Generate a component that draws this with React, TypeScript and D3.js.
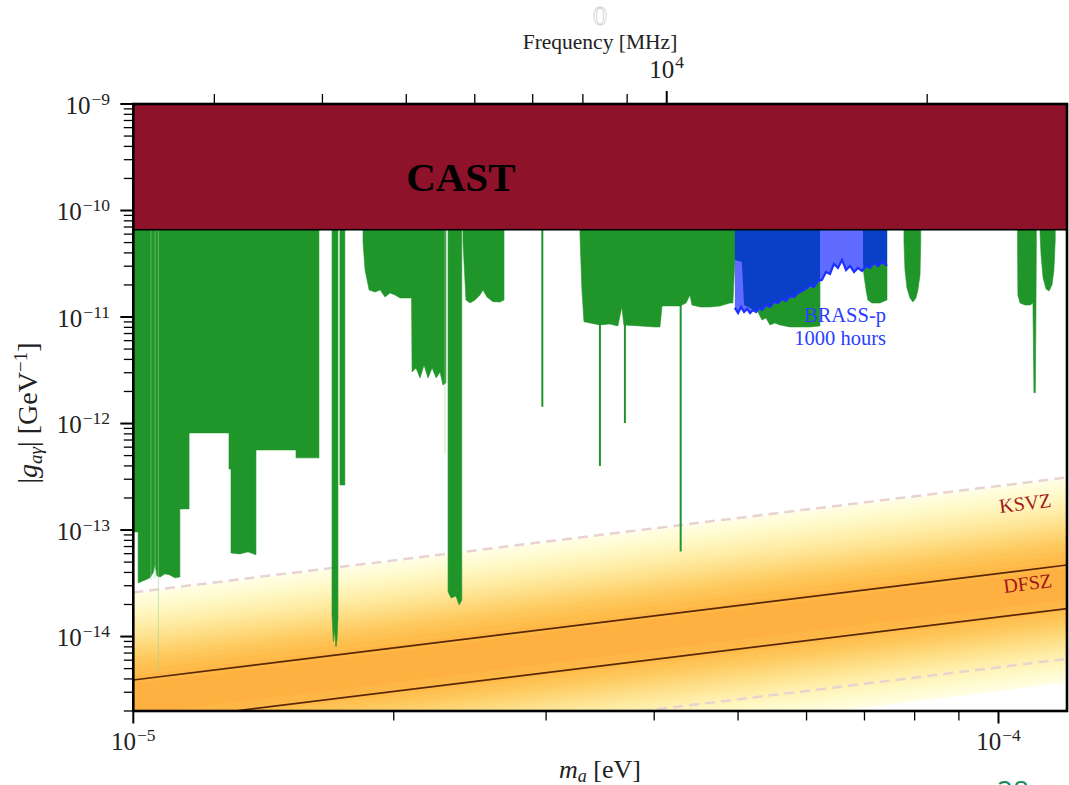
import React from 'react';
import * as d3 from 'd3';

const WIDTH = 1069;
const HEIGHT = 785;
const PLOT = { left: 133.3, right: 1067, top: 104, bottom: 711 };

// axis domains
const massDomain = [1e-5, 1.2e-4];
const couplingDomain = [2e-15, 1e-9];
const MHZ_PER_EV = 2.418e8;

// tick labels
const yMajor = [1e-9, 1e-10, 1e-11, 1e-12, 1e-13, 1e-14];
const yMajorExp = ['−9', '−10', '−11', '−12', '−13', '−14'];
const xMajor = [1e-5, 1e-4];
const xMajorExp = ['−5', '−4'];
const freqMajor = [1e4];
const freqMajorExp = ['4'];

// CAST helioscope limit
const castLimit = 6.6e-11;

// QCD axion model lines
const modelMass = [1e-5, 1.2e-4];
const ksvzG = [3.91e-15, 4.69e-14];
const dfszG = [1.526e-15, 1.831e-14];
const bandUpperG = [2.595e-14, 3.114e-13];
const bandLowerG = [5.15e-16, 6.18e-15];
const bandCenterG = [2.55e-15, 3.06e-14];

// haloscope exclusions (lower edge of excluded region)
const haloA_mass = [1.0e-5, 1.013e-5, 1.013e-5, 1.032e-5, 1.045e-5, 1.054e-5, 1.0595e-5, 1.065e-5, 1.074e-5, 1.088e-5, 1.102e-5, 1.117e-5, 1.132e-5, 1.132e-5, 1.16e-5, 1.16e-5, 1.29e-5, 1.29e-5, 1.297e-5, 1.297e-5, 1.328e-5, 1.357e-5, 1.386e-5, 1.386e-5, 1.542e-5, 1.542e-5, 1.639e-5];
const haloA_g = [9.61e-14, 9.61e-14, 3.19e-14, 3.4e-14, 3.56e-14, 3.96e-14, 4.71e-14, 3.71e-14, 3.63e-14, 3.88e-14, 3.79e-14, 3.56e-14, 3.63e-14, 1.58e-13, 1.58e-13, 8.17e-13, 8.17e-13, 3.75e-13, 3.75e-13, 6.1e-14, 5.97e-14, 6.24e-14, 5.85e-14, 5.65e-13, 5.65e-13, 4.76e-13, 4.76e-13];
const haloB_mass = [1.697e-5, 1.703e-5, 1.709e-5, 1.715e-5, 1.72e-5, 1.724e-5];
const haloB_g = [1.6e-14, 9e-15, 1.15e-14, 8.0e-15, 9.5e-15, 1.5e-14];
const haloC_mass = [1.733e-5, 1.756e-5];
const haloC_g = [2.65e-13, 2.65e-13];
const haloD_mass = [1.843e-5, 1.853e-5, 1.873e-5, 1.903e-5, 1.929e-5, 1.954e-5, 1.98e-5, 2.007e-5, 2.034e-5, 2.061e-5, 2.097e-5, 2.1e-5, 2.122e-5, 2.145e-5, 2.168e-5, 2.191e-5, 2.215e-5, 2.239e-5, 2.262e-5, 2.28e-5, 2.298e-5];
const haloD_g = [5e-11, 2.767e-11, 1.795e-11, 1.72e-11, 1.795e-11, 1.543e-11, 1.683e-11, 1.611e-11, 1.51e-11, 1.51e-11, 1.51e-11, 3.05e-12, 3.33e-12, 2.68e-12, 3.55e-12, 2.68e-12, 3.33e-12, 2.68e-12, 3.05e-12, 2.3e-12, 2.405e-12];
const haloE_mass = [2.311e-5, 2.33e-5, 2.36e-5, 2.38e-5, 2.397e-5];
const haloE_g = [2.63e-14, 2.3e-14, 2.4e-14, 1.98e-14, 2.2e-14];
const haloF_mass = [2.405e-5, 2.424e-5, 2.45e-5, 2.483e-5, 2.516e-5, 2.536e-5, 2.563e-5, 2.604e-5, 2.653e-5, 2.682e-5];
const haloF_g = [5e-11, 1.446e-11, 1.355e-11, 1.446e-11, 1.611e-11, 1.795e-11, 1.543e-11, 1.394e-11, 1.385e-11, 1.446e-11];
const haloH_mass = [3.283e-5, 3.3e-5, 3.318e-5, 3.372e-5, 3.462e-5, 3.554e-5, 3.631e-5, 3.67e-5, 3.69e-5, 3.85e-5, 4.009e-5, 4.062e-5, 4.084e-5, 4.172e-5, 4.284e-5, 4.354e-5, 4.4e-5, 4.423e-5, 4.519e-5, 4.64e-5, 4.765e-5, 4.893e-5, 4.932e-5, 4.958e-5, 5.051e-5, 5.081e-5, 5.162e-5, 5.272e-5, 5.329e-5, 5.386e-5, 5.443e-5, 5.515e-5, 5.589e-5, 5.741e-5, 5.896e-5, 6.054e-5, 6.218e-5];
const haloH_g = [6e-11, 1.8e-11, 9.05e-12, 8.8e-12, 8.43e-12, 8.61e-12, 8.25e-12, 1.244e-11, 8.43e-12, 8.25e-12, 8.07e-12, 8.07e-12, 1.271e-11, 1.271e-11, 1.271e-11, 1.355e-11, 1.611e-11, 1.298e-11, 1.244e-11, 1.244e-11, 1.271e-11, 1.355e-11, 1.355e-11, 3.434e-11, 3.289e-11, 1.298e-11, 1.217e-11, 1.116e-11, 9.39e-12, 9.8e-12, 8.43e-12, 8.8e-12, 8.43e-12, 8.07e-12, 8.07e-12, 8.07e-12, 8.25e-12];
const haloI_mass = [6.973e-5, 6.99e-5, 7.03e-5, 7.063e-5, 7.14e-5, 7.295e-5, 7.432e-5];
const haloI_g = [3.289e-11, 2.48e-11, 1.795e-11, 1.446e-11, 1.355e-11, 1.355e-11, 1.446e-11];
const haloJ_mass = [7.776e-5, 7.797e-5, 7.838e-5, 7.901e-5, 7.964e-5, 8.028e-5, 8.07e-5, 8.115e-5, 8.13e-5];
const haloJ_g = [5e-11, 2.767e-11, 1.875e-11, 1.51e-11, 1.385e-11, 1.51e-11, 1.795e-11, 2.48e-11, 5e-11];
const haloK_mass = [1.052e-4, 1.053e-4, 1.059e-4, 1.073e-4, 1.088e-4, 1.096e-4, 1.099e-4, 1.103e-4, 1.105e-4, 1.106e-4];
const haloK_g = [5e-11, 1.611e-11, 1.355e-11, 1.298e-11, 1.298e-11, 1.355e-11, 1.95e-12, 1.95e-12, 1.446e-11, 5e-11];
const haloL_mass = [1.117e-4, 1.12e-4, 1.126e-4, 1.135e-4, 1.144e-4, 1.153e-4, 1.159e-4, 1.163e-4];
const haloL_g = [6e-11, 3.83e-11, 2.33e-11, 1.835e-11, 1.757e-11, 2.0e-11, 2.767e-11, 5.29e-11];

// very narrow scans (drawn as lines)
const narrowMass = [2.97e-5, 3.462e-5, 3.7e-5, 4.292e-5];
const narrowG = [1.44e-12, 4.0e-13, 1.01e-12, 6.3e-14];

// faint scans
const faintMass = [1.048e-5, 1.0595e-5, 1.069e-5, 2.292e-5];
const faintG = [3.4e-14, 3.5e-14, 4.66e-15, 5.3e-13];

// BRASS-p projected sensitivity (1000 hours)
const brassMass = [4.958e-5, 5.0e-5, 5.04e-5, 5.081e-5, 5.121e-5, 5.162e-5, 5.203e-5, 5.245e-5, 5.287e-5, 5.329e-5, 5.386e-5, 5.443e-5, 5.501e-5, 5.56e-5, 5.619e-5, 5.679e-5, 5.741e-5, 5.802e-5, 5.864e-5, 5.927e-5, 5.99e-5, 6.054e-5, 6.119e-5, 6.184e-5, 6.252e-5, 6.318e-5, 6.386e-5, 6.454e-5, 6.523e-5, 6.594e-5, 6.665e-5, 6.736e-5, 6.808e-5, 6.88e-5, 6.955e-5, 7.03e-5, 7.104e-5, 7.178e-5, 7.255e-5, 7.334e-5, 7.432e-5];
const brassG = [1.217e-11, 1.092e-11, 1.244e-11, 1.116e-11, 1.191e-11, 1.092e-11, 1.165e-11, 1.116e-11, 1.217e-11, 1.165e-11, 1.298e-11, 1.244e-11, 1.385e-11, 1.355e-11, 1.478e-11, 1.415e-11, 1.577e-11, 1.543e-11, 1.683e-11, 1.757e-11, 1.835e-11, 2.0e-11, 1.915e-11, 2.18e-11, 2.23e-11, 2.649e-11, 2.537e-11, 3.149e-11, 2.889e-11, 3.434e-11, 2.767e-11, 3.016e-11, 2.649e-11, 2.889e-11, 2.707e-11, 3.016e-11, 2.889e-11, 3.218e-11, 3.016e-11, 3.289e-11, 3.016e-11];

const haloRegions: [number[], number[]][] = [
  [haloA_mass, haloA_g], [haloB_mass, haloB_g], [haloC_mass, haloC_g], [haloD_mass, haloD_g],
  [haloE_mass, haloE_g], [haloF_mass, haloF_g], [haloH_mass, haloH_g], [haloI_mass, haloI_g],
  [haloJ_mass, haloJ_g], [haloK_mass, haloK_g], [haloL_mass, haloL_g],
];

const FONT = '"Liberation Serif", "Times New Roman", serif';
const GREEN = '#20952a';
const CAST_COL = '#8e1229';

export default function App() {
  const x = d3.scaleLog().domain(massDomain).range([PLOT.left, PLOT.right]);
  const y = d3.scaleLog().domain(couplingDomain).range([PLOT.bottom, PLOT.top]);
  const f = d3.scaleLog().domain([massDomain[0] * MHZ_PER_EV, massDomain[1] * MHZ_PER_EV]).range([PLOT.left, PLOT.right]);
  const line = d3.line<[number, number]>();
  const gTop = couplingDomain[1];

  const regionPath = (ms: number[], gs: number[]) => {
    const pts: [number, number][] = [
      [x(ms[0]), y(gTop)],
      ...ms.map((m, i) => [x(m), y(gs[i])] as [number, number]),
      [x(ms[ms.length - 1]), y(gTop)],
    ];
    return line(pts) + 'Z';
  };
  const greenPaths = haloRegions.map(([ms, gs]) => regionPath(ms, gs));
  const brassPath = regionPath(brassMass, brassG);
  const brassLine = line(brassMass.map((m, i) => [x(m), y(brassG[i])] as [number, number]));
  const modelLine = (gs: number[]) => line(modelMass.map((m, i) => [x(m), y(gs[i])] as [number, number]));

  // QCD band colour layers (filled contours of a log-normal band)
  const sigma = 0.8;
  const peak = 1 / (sigma * Math.sqrt(2 * Math.PI));
  const vmin = peak / (10 / 4.6);
  const vmax = 0.85;
  const layers = d3.range(0, 50).map((k) => k * 0.01).filter((l) => l + 0.005 >= vmin && l < peak);
  const bandLayers = layers.map((l) => {
    const h = Math.sqrt(-2 * sigma * sigma * Math.log(Math.max(l, 1e-6) / peak));
    const up = Math.pow(10, h), dn = Math.pow(10, -h * 0.92);
    const pts: [number, number][] = [
      [x(modelMass[0]), y(bandCenterG[0] * up)],
      [x(modelMass[1]), y(bandCenterG[1] * up)],
      [x(modelMass[1]), y(bandCenterG[1] * dn)],
      [x(modelMass[0]), y(bandCenterG[0] * dn)],
    ];
    const t = (l + 0.005 - vmin) / (vmax - vmin);
    return { d: line(pts) + 'Z', color: d3.interpolateYlOrBr(t) };
  });

  const yTicksAll = y.ticks();
  const yMinor = yTicksAll.filter((v) => !yMajor.some((M) => Math.abs(v / M - 1) < 1e-6));
  const xTicksAll = x.ticks();
  const xMinor = xTicksAll.filter((v) => !xMajor.some((M) => Math.abs(v / M - 1) < 1e-6));
  const fTicksAll = f.ticks();
  const fMinor = fTicksAll.filter((v) => !freqMajor.some((M) => Math.abs(v / M - 1) < 1e-6));

  const plotW = PLOT.right - PLOT.left;
  const plotH = PLOT.bottom - PLOT.top;
  const slopeAngle = (Math.atan2(y(ksvzG[0]) - y(ksvzG[1]), x(modelMass[1]) - x(modelMass[0])) * 180) / Math.PI;

  return (
    <svg width={WIDTH} height={HEIGHT} style={{ position: 'absolute', left: 0, top: 0, background: '#fff' }} fontFamily={FONT}>
      <defs>
        <clipPath id="plotClip">
          <rect x={PLOT.left} y={PLOT.top} width={plotW} height={plotH} />
        </clipPath>
        <clipPath id="greenClip">
          {greenPaths.map((d, i) => (
            <path key={i} d={d} />
          ))}
        </clipPath>
      </defs>
      <rect x={0} y={0} width={WIDTH} height={HEIGHT} fill="#fff" />

      <g clipPath="url(#plotClip)">
        {bandLayers.map((b, i) => (
          <path key={i} d={b.d} fill={b.color} stroke={b.color} strokeWidth={0.3} />
        ))}
        <path d={modelLine(bandUpperG) || ''} stroke="#e9d3cf" strokeWidth={2.5} strokeDasharray="10,6" fill="none" />
        <path d={modelLine(bandLowerG) || ''} stroke="#e9d3cf" strokeWidth={2.5} strokeDasharray="10,6" fill="none" />
        <path d={modelLine(ksvzG) || ''} stroke="#5a2606" strokeWidth={1.6} fill="none" />
        <path d={modelLine(dfszG) || ''} stroke="#5a2606" strokeWidth={1.6} fill="none" />
        <text
          transform={`translate(${x(1.076e-4)},${y(1.546e-13)}) rotate(${-slopeAngle})`}
          textAnchor="middle"
          fontSize={20}
          fill="#a3161c"
        >
          KSVZ
        </text>
        <text
          transform={`translate(${x(1.083e-4)},${y(2.74e-14)}) rotate(${-slopeAngle})`}
          textAnchor="middle"
          fontSize={20}
          fill="#a3161c"
        >
          DFSZ
        </text>

        {greenPaths.map((d, i) => (
          <path key={i} d={d} fill={GREEN} stroke={GREEN} strokeWidth={0.6} />
        ))}
        {narrowMass.map((m, i) => (
          <line key={i} x1={x(m)} x2={x(m)} y1={y(gTop)} y2={y(narrowG[i])} stroke={GREEN} strokeWidth={2} />
        ))}
        {faintMass.map((m, i) => (
          <line key={i} x1={x(m)} x2={x(m)} y1={y(gTop)} y2={y(faintG[i])} stroke="rgba(150,210,150,0.55)" strokeWidth={1} />
        ))}

        <path d={brassPath} fill="#5f6bff" />
        <path d={brassPath} fill="#0a3fc8" clipPath="url(#greenClip)" />
        <path d={brassLine || ''} fill="none" stroke="#1c30ff" strokeWidth={2.2} />
        <text textAnchor="end" fontSize={20.5} fill="#2b40ff">
          <tspan x={x(7.413e-5)} y={y(9.05e-12)}>BRASS-p</tspan>
          <tspan x={x(7.413e-5)} y={y(5.47e-12)}>1000 hours</tspan>
        </text>

        <rect
          x={PLOT.left - 5}
          y={y(gTop)}
          width={plotW + 10}
          height={y(castLimit) - y(gTop)}
          fill={CAST_COL}
          stroke="#000"
          strokeWidth={1.6}
        />
        <text x={x(2.067e-5)} y={y(1.535e-10)} fontSize={41} fontWeight="bold" fill="#000">
          CAST
        </text>
      </g>

      {/* frame */}
      <rect x={PLOT.left} y={PLOT.top} width={plotW} height={plotH} fill="none" stroke="#000" strokeWidth={2.6} />

      {/* left axis ticks */}
      {yMajor.map((v, i) => (
        <g key={'ym' + i}>
          <line x1={PLOT.left - 13} x2={PLOT.left} y1={y(v)} y2={y(v)} stroke="#000" strokeWidth={2} />
          <text x={110} y={y(v) + 9.5} textAnchor="end" fontSize={25} fill="#222">
            10<tspan dx={1} dy={-9} fontSize={17.5}>{yMajorExp[i]}</tspan>
          </text>
        </g>
      ))}
      {yMinor.map((v, i) => (
        <line key={'yn' + i} x1={PLOT.left - 9.5} x2={PLOT.left} y1={y(v)} y2={y(v)} stroke="#000" strokeWidth={1.3} />
      ))}

      {/* bottom axis */}
      {xMajor.map((v, i) => (
        <g key={'xm' + i}>
          <line x1={x(v)} x2={x(v)} y1={PLOT.bottom} y2={PLOT.bottom + 12.5} stroke="#000" strokeWidth={2} />
          <text x={x(v)} y={749.5} textAnchor="middle" fontSize={25} fill="#222">
            10<tspan dx={1} dy={-8.5} fontSize={17.5}>{xMajorExp[i]}</tspan>
          </text>
        </g>
      ))}
      {xMinor.map((v, i) => (
        <line key={'xn' + i} x1={x(v)} x2={x(v)} y1={PLOT.bottom} y2={PLOT.bottom + 9.5} stroke="#000" strokeWidth={1.3} />
      ))}

      {/* top frequency axis */}
      {freqMajor.map((v, i) => (
        <g key={'fm' + i}>
          <line x1={f(v)} x2={f(v)} y1={PLOT.top - 13} y2={PLOT.top} stroke="#000" strokeWidth={2} />
          <text x={f(v)} y={77.5} textAnchor="middle" fontSize={25} fill="#222">
            10<tspan dx={1} dy={-9.5} fontSize={17.5}>{freqMajorExp[i]}</tspan>
          </text>
        </g>
      ))}
      {fMinor.map((v, i) => (
        <line key={'fn' + i} x1={f(v)} x2={f(v)} y1={PLOT.top - 10} y2={PLOT.top} stroke="#000" strokeWidth={1.3} />
      ))}

      <text x={600} y={49} textAnchor="middle" fontSize={21.5} fill="#222">
        Frequency [MHz]
      </text>
      <text x={600} y={25} textAnchor="middle" fontSize={28} fill="#fff" stroke="#d0d0d0" strokeWidth={0.8}>
        0
      </text>

      <text x={600} y={778} textAnchor="middle" fontSize={26} fill="#222">
        <tspan fontStyle="italic">m</tspan>
        <tspan fontStyle="italic" fontSize={18} dy={4}>a</tspan>
        <tspan dy={-4}> [eV]</tspan>
      </text>

      <text transform="translate(37,413) rotate(-90)" textAnchor="middle" fontSize={28} fill="#222">
        |<tspan fontStyle="italic">g</tspan>
        <tspan fontStyle="italic" fontSize={19} dy={5}>aγ</tspan>
        <tspan dy={-5}>| [GeV</tspan>
        <tspan fontSize={19} dy={-10}>−1</tspan>
        <tspan dy={10}>]</tspan>
      </text>

      <text x={997} y={801} fontSize={28} fill="#138a5c" fontFamily="'Open Sans', sans-serif">
        28
      </text>
    </svg>
  );
}
